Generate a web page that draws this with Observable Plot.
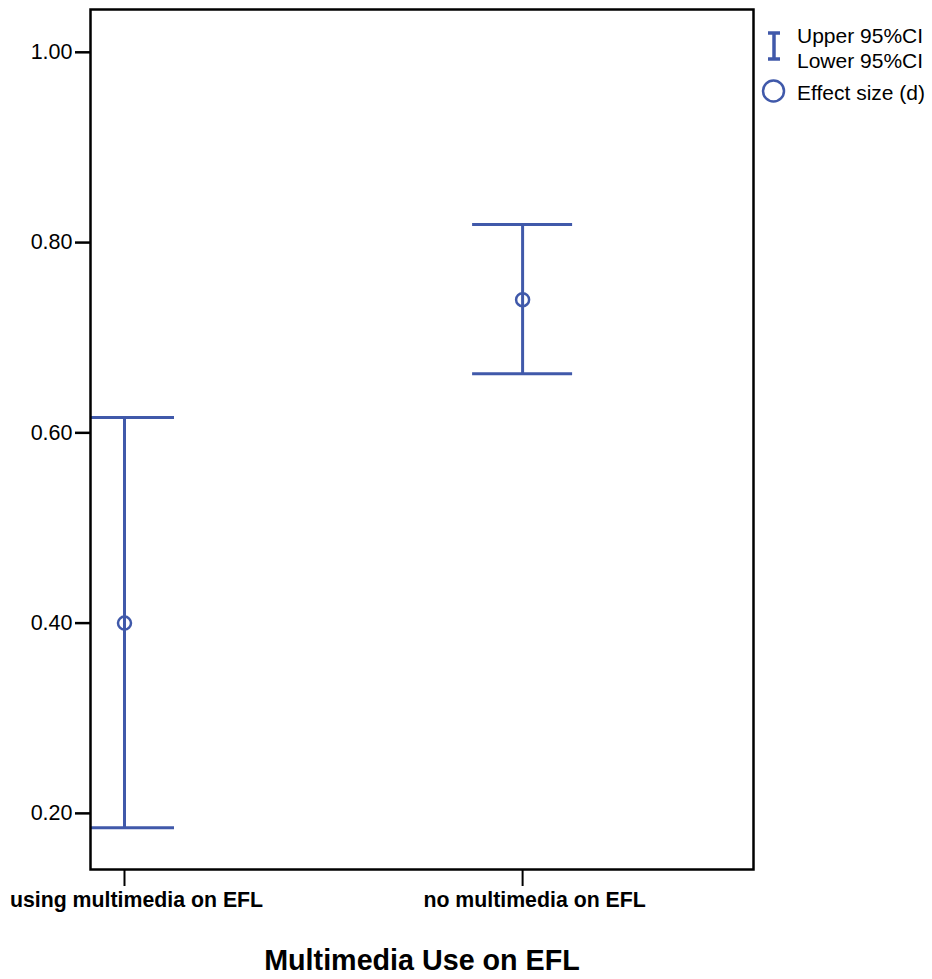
<!DOCTYPE html>
<html>
<head>
<meta charset="utf-8">
<script src="https://cdn.jsdelivr.net/npm/d3@7"></script>
<script src="https://cdn.jsdelivr.net/npm/@observablehq/plot@0.6"></script>
<style>
  html, body { margin: 0; padding: 0; background: #fff; }
  #wrap { position: relative; width: 932px; height: 979px; font-family: "Liberation Sans", Arial, sans-serif; }
  #wrap svg { font-family: "Liberation Sans", Arial, sans-serif; }
</style>
</head>
<body>
<div id="wrap"></div>
<script>
// Data
const categories = ["using multimedia on EFL", "no multimedia on EFL"];
const effectSize = [0.400, 0.740];
const upperCI = [0.616, 0.819];
const lowerCI = [0.185, 0.662];
const yTicks = [0.20, 0.40, 0.60, 0.80, 1.00];
const xTitle = "Multimedia Use on EFL";
const legendLabels = ["Upper 95%CI", "Lower 95%CI", "Effect size (d)"];

const blue = "#4059AA";
const capHalf = 0.1256;

const data = categories.map((c, i) => ({
  cat: c, pos: i, d: effectSize[i], upper: upperCI[i], lower: lowerCI[i]
}));

const chart = Plot.plot({
  width: 932,
  height: 979,
  marginLeft: 90,
  marginRight: 179,
  marginTop: 9,
  marginBottom: 110,
  style: {fontFamily: '"Liberation Sans", Arial, sans-serif', background: "white"},
  x: {domain: [-0.0854, 1.580]},
  y: {domain: [0.141, 1.045]},
  marks: [
    Plot.ruleX(data, {x: "pos", y1: "lower", y2: "upper", stroke: blue, strokeWidth: 3}),
    Plot.ruleY(data, {y: "upper", x1: d => d.pos - capHalf, x2: d => d.pos + capHalf, stroke: blue, strokeWidth: 3, clip: true}),
    Plot.ruleY(data, {y: "lower", x1: d => d.pos - capHalf, x2: d => d.pos + capHalf, stroke: blue, strokeWidth: 3, clip: true}),
    Plot.dot(data, {x: "pos", y: "d", r: 6.5, stroke: blue, strokeWidth: 2.5, fill: "none"}),
    Plot.frame({stroke: "black", strokeWidth: 2.5}),
    Plot.axisY({ticks: yTicks, tickFormat: d3.format(".2f"), tickSize: 15, tickPadding: 3, fontSize: 21.5, strokeWidth: 2.5, label: null}),
    // tick marks only
    Plot.axisX({ticks: [0, 1], tickFormat: () => "", tickSize: 17, strokeWidth: 2, label: null}),
    // tick labels only, nudged right as in the reference
    Plot.axisX({ticks: [0, 1], tickFormat: i => categories[i], tickSize: 0, tickPadding: 22, dx: 12, fontSize: 21.3, fontWeight: "bold", label: null}),
    Plot.text([xTitle], {frameAnchor: "bottom", dy: 100, fontSize: 28.7, fontWeight: "bold", fill: "black"})
  ]
});

document.getElementById("wrap").appendChild(chart);

// Legend (top right, outside the frame)
const svg = d3.select(chart);
const lg = svg.append("g").attr("font-size", 21).attr("fill", "black").attr("text-anchor", "start");
// I-beam symbol
const ix = 774, iy1 = 33, iy2 = 59;
lg.append("line").attr("x1", ix).attr("x2", ix).attr("y1", iy1).attr("y2", iy2).attr("stroke", blue).attr("stroke-width", 3.5);
lg.append("line").attr("x1", ix - 6).attr("x2", ix + 6).attr("y1", iy1).attr("y2", iy1).attr("stroke", blue).attr("stroke-width", 3.5);
lg.append("line").attr("x1", ix - 6).attr("x2", ix + 6).attr("y1", iy2).attr("y2", iy2).attr("stroke", blue).attr("stroke-width", 3.5);
lg.append("circle").attr("cx", 773.5).attr("cy", 91).attr("r", 10.5).attr("fill", "none").attr("stroke", blue).attr("stroke-width", 2.5);
lg.append("text").attr("x", 797).attr("y", 43).text(legendLabels[0]);
lg.append("text").attr("x", 797).attr("y", 68).text(legendLabels[1]);
lg.append("text").attr("x", 797).attr("y", 100).text(legendLabels[2]);
</script>
</body>
</html>
